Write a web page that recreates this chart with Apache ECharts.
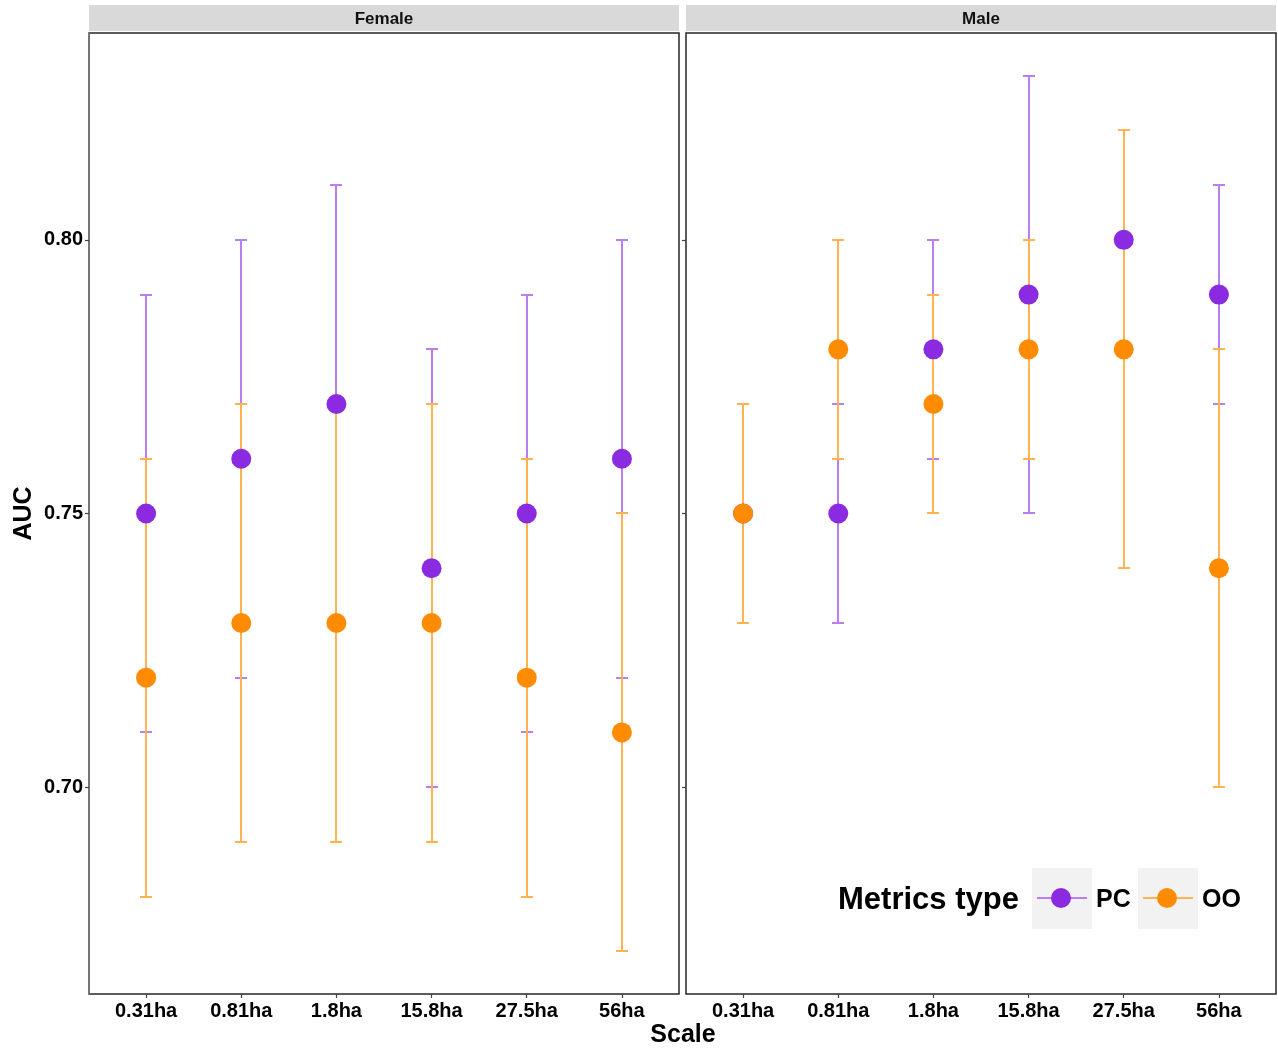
<!DOCTYPE html>
<html><head><meta charset="utf-8">
<script src="https://cdn.jsdelivr.net/npm/echarts@6/dist/echarts.min.js"></script>
<style>html,body{margin:0;padding:0;background:#fff}#c{width:1278px;height:1048px}</style>
</head><body><div id="c"></div>
<script>
const categories = ['0.31ha','0.81ha','1.8ha','15.8ha','27.5ha','56ha'];
const yTicks = [0.70, 0.75, 0.80];
const panels = ['Female','Male'];
const seriesNames = ['PC','OO'];

const femalePC     = [0.75,0.76,0.77,0.74,0.75,0.76];
const femalePCLow  = [0.71,0.72,0.73,0.70,0.71,0.72];
const femalePCHigh = [0.79,0.80,0.81,0.78,0.79,0.80];
const femaleOO     = [0.72,0.73,0.73,0.73,0.72,0.71];
const femaleOOLow  = [0.68,0.69,0.69,0.69,0.68,0.67];
const femaleOOHigh = [0.76,0.77,0.77,0.77,0.76,0.75];

const malePC     = [0.75,0.75,0.78,0.79,0.80,0.79];
const malePCLow  = [0.73,0.73,0.76,0.75,0.78,0.77];
const malePCHigh = [0.77,0.77,0.80,0.83,0.82,0.81];
const maleOO     = [0.75,0.78,0.77,0.78,0.78,0.74];
const maleOOLow  = [0.73,0.76,0.75,0.76,0.74,0.70];
const maleOOHigh = [0.77,0.80,0.79,0.80,0.82,0.78];

const FONT = "'Liberation Sans', Arial, sans-serif";
const pointColor = {PC:'#8A2BE2', OO:'#FF8C00'};
const barColor = {PC:'#B97FF0', OO:'#FFB351'};

const chart = echarts.init(document.getElementById('c'), null, {renderer:'canvas'});

const grids = [
  {left:89, top:33, width:590, height:961, show:true, borderColor:'#262626', borderWidth:1.5, backgroundColor:'#fff'},
  {left:686, top:33, width:590, height:961, show:true, borderColor:'#262626', borderWidth:1.5, backgroundColor:'#fff'}
];

const xAxes = [0,1].map(g => ({
  type:'value', gridIndex:g, min:-0.6, max:5.6,
  splitLine:{show:false},
  axisLine:{show:false, onZero:false},
  axisTick:{show:true, customValues:[0,1,2,3,4,5], length:4, lineStyle:{color:'#444', width:1.2}},
  axisLabel:{show:true, customValues:[0,1,2,3,4,5], formatter:v => categories[Math.round(v)],
    color:'#000', fontFamily:FONT, fontWeight:'bold', fontSize:20, margin:7}
}));

const yAxes = [0,1].map(g => ({
  type:'value', gridIndex:g, min:0.6622, max:0.8378,
  name: g===0 ? 'AUC' : '', nameLocation:'middle', nameGap:52, nameRotate:90,
  nameTextStyle:{color:'#000', fontFamily:FONT, fontWeight:'bold', fontSize:25},
  splitLine:{show:false},
  axisLine:{show:g===0, onZero:false, lineStyle:{color:'#7f7f7f', width:1.5}},
  axisTick:{show:true, customValues:yTicks, length:4, lineStyle:{color:'#444', width:1.2}},
  axisLabel:{show:g===0, customValues:yTicks, formatter:v => v.toFixed(2),
    color:'#000', fontFamily:FONT, fontWeight:'bold', fontSize:20, margin:6}
}));

function errSeries(name, g, low, high, z){
  return {
    type:'custom', name:name, xAxisIndex:g, yAxisIndex:g, z:z,
    data: low.map((l,i)=>[i,l,high[i]]),
    encode:{x:0, y:[1,2]},
    renderItem:(params, api) => {
      const x = api.value(0);
      const p1 = api.coord([x, api.value(1)]);
      const p2 = api.coord([x, api.value(2)]);
      const cx = Math.round(p1[0]);
      const y1 = Math.round(p1[1]), y2 = Math.round(p2[1]);
      const hw = 6;
      const st = {stroke:barColor[name], lineWidth:2};
      return {type:'group', children:[
        {type:'line', shape:{x1:cx, y1:y1, x2:cx, y2:y2}, style:st},
        {type:'line', shape:{x1:cx-hw, y1:y1, x2:cx+hw, y2:y1}, style:st},
        {type:'line', shape:{x1:cx-hw, y1:y2, x2:cx+hw, y2:y2}, style:st}
      ]};
    }
  };
}
function ptSeries(name, g, vals, z){
  return {
    type:'scatter', name:name, xAxisIndex:g, yAxisIndex:g, z:z,
    symbol:'circle', symbolSize:20,
    itemStyle:{color:pointColor[name], opacity:1},
    emphasis:{disabled:true},
    data: vals.map((v,i)=>[i,v])
  };
}

const series = [
  errSeries('PC',0,femalePCLow,femalePCHigh,2),
  errSeries('OO',0,femaleOOLow,femaleOOHigh,3),
  ptSeries('PC',0,femalePC,4),
  ptSeries('OO',0,femaleOO,5),
  errSeries('PC',1,malePCLow,malePCHigh,2),
  errSeries('OO',1,maleOOLow,maleOOHigh,3),
  ptSeries('PC',1,malePC,4),
  ptSeries('OO',1,maleOO,5)
];

const graphic = [];
panels.forEach((p,g) => {
  const gr = grids[g];
  graphic.push({type:'rect', shape:{x:gr.left, y:5, width:gr.width, height:26}, style:{fill:'#D9D9D9'}, z:1});
  graphic.push({type:'text', x:gr.left+gr.width/2, y:19, style:{text:p, fill:'#111', font:`bold 17px ${FONT}`, align:'center', verticalAlign:'middle'}, z:2});
});
graphic.push({type:'text', x:683, y:1035, style:{text:'Scale', fill:'#000', font:`bold 25px ${FONT}`, align:'center', verticalAlign:'middle'}, z:2});

graphic.push({type:'text', x:838, y:900, style:{text:'Metrics type', fill:'#000', font:`bold 31px ${FONT}`, align:'left', verticalAlign:'middle'}, z:10});
const legendBoxes = [{x:1032, tx:1096}, {x:1138, tx:1202}];
seriesNames.forEach((n,i) => {
  const b = legendBoxes[i];
  graphic.push({type:'rect', shape:{x:b.x, y:868, width:60, height:61}, style:{fill:'#F2F2F2'}, z:10});
  graphic.push({type:'line', shape:{x1:b.x+5, y1:898, x2:b.x+55, y2:898}, style:{stroke:barColor[n], lineWidth:2}, z:11});
  graphic.push({type:'circle', shape:{cx:b.x+29, cy:898, r:10}, style:{fill:pointColor[n]}, z:12});
  graphic.push({type:'text', x:b.tx, y:900, style:{text:n, fill:'#000', font:`bold 25px ${FONT}`, align:'left', verticalAlign:'middle'}, z:10});
});

chart.setOption({
  backgroundColor:'#fff',
  animation:false,
  grid:grids, xAxis:xAxes, yAxis:yAxes, series:series, graphic:graphic
});
</script></body></html>
